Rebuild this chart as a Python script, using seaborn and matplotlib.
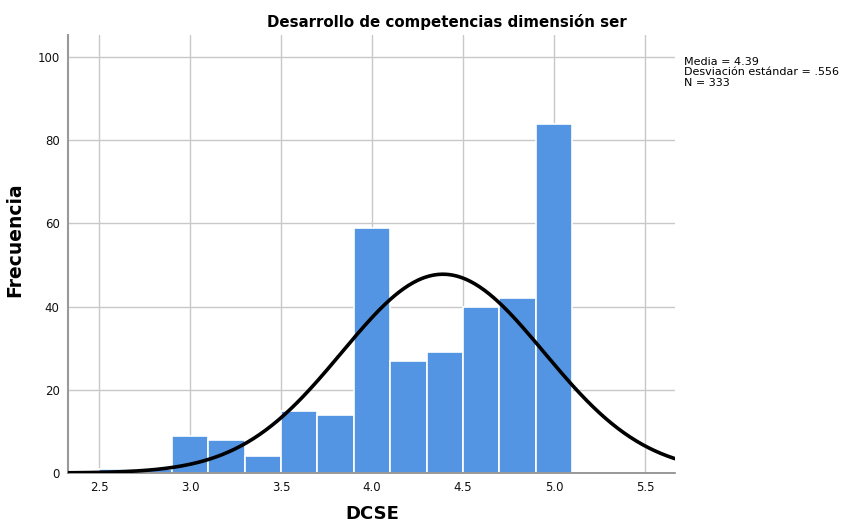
import numpy as np
import matplotlib
matplotlib.use("Agg")
import matplotlib.pyplot as plt
import seaborn as sns

# ── Data ─────────────────────────────────────────────────────────────────────
bin_edges = [2.5, 2.7, 2.9, 3.1, 3.3, 3.5, 3.7, 3.9, 4.1, 4.3, 4.5, 4.7, 4.9, 5.1]
counts    = [1, 1, 9, 8, 4, 15, 14, 59, 27, 29, 40, 42, 84]
media     = 4.39
desv      = 0.556
n_total   = 333
x_ticks   = [2.5, 3.0, 3.5, 4.0, 4.5, 5.0, 5.5]
y_ticks   = [0, 20, 40, 60, 80, 100]

BAR_COLOR = "#5495E3"

sns.set_theme(style="white")
plt.rcParams["font.family"] = ["DejaVu Sans"]
plt.rcParams["text.color"] = "black"
plt.rcParams["axes.labelcolor"] = "black"

fig = plt.figure(figsize=(8.45, 5.25), dpi=100)
ax = fig.add_axes([68 / 845, 52 / 525, 607 / 845, 438 / 525])

centers = [(a + b) / 2 for a, b in zip(bin_edges[:-1], bin_edges[1:])]
sns.histplot(x=centers, weights=counts, bins=bin_edges, ax=ax,
             color=BAR_COLOR, alpha=1, edgecolor="white", linewidth=1.2,
             zorder=2)

# fitted normal curve (scaled to counts)
width = bin_edges[1] - bin_edges[0]
xs = np.linspace(2.3, 5.7, 400)
ys = n_total * width / (desv * np.sqrt(2 * np.pi)) * np.exp(-0.5 * ((xs - media) / desv) ** 2)
sns.lineplot(x=xs, y=ys, ax=ax, color="black", linewidth=2.6, zorder=3)

ax.set_xlim(2.33, 5.665)
ax.set_ylim(0, 105.3)
ax.set_xticks(x_ticks)
ax.set_xticklabels([f"{t:.1f}" for t in x_ticks])
ax.set_yticks(y_ticks)
ax.grid(True, color="#c8c8c8", linewidth=1, zorder=0)
ax.set_axisbelow(True)
ax.tick_params(length=0, labelsize=8.5, colors="#111111", pad=6)

for s in ["top", "right"]:
    ax.spines[s].set_visible(False)
ax.spines["left"].set_color("#999999")
ax.spines["left"].set_linewidth(1.5)
ax.spines["bottom"].set_color("#888888")
ax.spines["bottom"].set_linewidth(1.2)

ax.set_xlabel("DCSE", fontsize=13, fontweight="bold")
ax.set_ylabel("Frecuencia", fontsize=13.5, fontweight="bold")
ax.xaxis.set_label_coords(0.502, -0.074)
ax.yaxis.set_label_coords(-0.072, 0.532)

fig.text(447 / 845, 1 - 22 / 525, "Desarrollo de competencias dimensión ser",
         ha="center", va="center", fontsize=10.8, fontweight="bold")

fig.text(684 / 845, 1 - 57 / 525,
         f"Media = {media:.2f}\nDesviación estándar = .{int(round(desv * 1000))}\nN = {n_total}",
         ha="left", va="top", fontsize=8, linespacing=1.05)

fig.savefig("out.png", dpi=100)
